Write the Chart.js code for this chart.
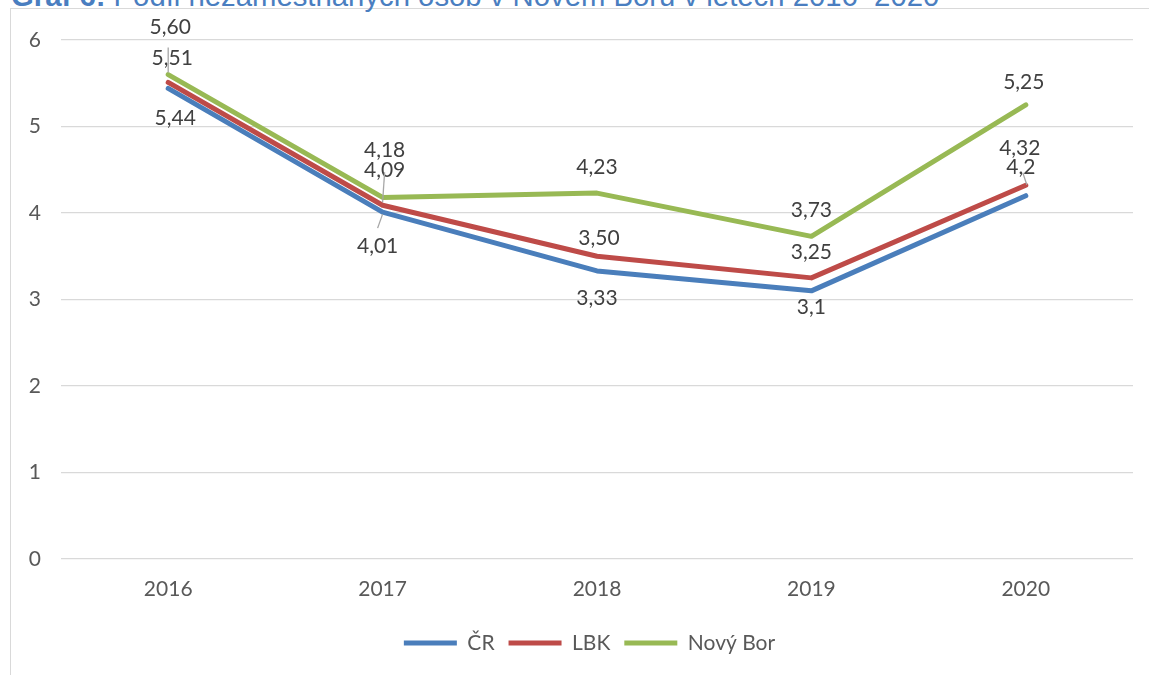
<!DOCTYPE html>
<html><head><meta charset="utf-8">
<script src="https://cdn.jsdelivr.net/npm/chart.js@4/dist/chart.umd.min.js"></script>
<style>
html,body{margin:0;padding:0;background:#fff;overflow:hidden;}
#wrap{position:relative;width:1149px;height:675px;overflow:hidden;background:#fff;}
#frame{position:absolute;left:10px;top:8px;width:1200px;height:700px;border:1px solid #d9d9d9;box-sizing:border-box;}
#title{position:absolute;left:11px;top:-19px;font-family:"Liberation Sans",Arial,sans-serif;font-size:29.3px;line-height:30px;color:#4A7EC0;white-space:nowrap;}
#cv{position:absolute;left:0;top:0;}
</style></head>
<body><div id="wrap"><div id="frame"></div><div id="title"><b>Graf 6:</b> Podíl nezaměstnaných osob v Novém Boru v letech 2016–2020</div><canvas id="cv" width="1149" height="675"></canvas></div>
<script>
const years = ['2016', '2017', '2018', '2019', '2020'];
const seriesNames = ['ČR', 'LBK', 'Nový Bor'];
const crValues = [5.44, 4.01, 3.33, 3.1, 4.2];
const lbkValues = [5.51, 4.09, 3.50, 3.25, 4.32];
const borValues = [5.60, 4.18, 4.23, 3.73, 5.25];
const crLabels = ['5,44', '4,01', '3,33', '3,1', '4,2'];
const lbkLabels = ['5,51', '4,09', '3,50', '3,25', '4,32'];
const borLabels = ['5,60', '4,18', '4,23', '3,73', '5,25'];
const yMin = 0, yMax = 6, yStep = 1;

const FONT = 'Lato, "Open Sans", sans-serif';

const labelOffsets = [
  [[7, 30], [-5, 34], [0, 27], [0, 16], [-5, -28]],
  [[4, -24], [2, -35], [2, -18], [0, -26], [-6, -37]],
  [[2, -47], [2, -47], [0, -26], [0, -26], [-2, -23]]
];
const leaders = [
  [2, 0, 0, -27, 0, -2],
  [1, 1, 2, -33, 0, -3],
  [0, 1, 0, 2, -5, 16],
  [0, 4, -3, -23, 1, -11]
];

const pointLabelPlugin = {
  id: 'pointLabels',
  afterDatasetsDraw(chart, args, opts) {
    const ctx = chart.ctx;
    ctx.save();
    ctx.font = '21px ' + FONT;
    ctx.fillStyle = '#404040';
    ctx.textAlign = 'center';
    ctx.textBaseline = 'middle';
    chart.data.datasets.forEach((ds, di) => {
      const meta = chart.getDatasetMeta(di);
      meta.data.forEach((p, i) => {
        const o = opts.offsets[di][i];
        ctx.fillText(ds.valueLabels[i], p.x + o[0], p.y + o[1]);
      });
    });
    ctx.strokeStyle = '#a6a6a6';
    ctx.lineWidth = 1.3;
    opts.leaders.forEach(([di, pi, x1, y1, x2, y2]) => {
      const p = chart.getDatasetMeta(di).data[pi];
      ctx.beginPath();
      ctx.moveTo(p.x + x1, p.y + y1);
      ctx.lineTo(p.x + x2, p.y + y2);
      ctx.stroke();
    });
    ctx.restore();
  }
};

const legendShift = {
  id: 'legendShift',
  afterLayout(chart) {
    chart.legend.left += 23;
    chart.legend.right += 23;
  }
};

function mk(label, data, labels, color, order) {
  return {
    label, data, valueLabels: labels,
    borderColor: color, backgroundColor: color,
    borderWidth: 5, pointRadius: 0, pointHoverRadius: 0,
    tension: 0, borderCapStyle: 'round', borderJoinStyle: 'round',
    fill: false, order
  };
}

new Chart(document.getElementById('cv'), {
  type: 'line',
  data: {
    labels: years,
    datasets: [
      mk(seriesNames[0], crValues, crLabels, '#4A7EBB', 3),
      mk(seriesNames[1], lbkValues, lbkLabels, '#BE4B48', 2),
      mk(seriesNames[2], borValues, borLabels, '#98B954', 1)
    ]
  },
  options: {
    responsive: false,
    animation: false,
    events: [],
    layout: { padding: { left: 0, right: 16, top: 40, bottom: 11.5 } },
    scales: {
      x: {
        offset: true,
        grid: { display: false, drawTicks: false },
        border: { display: false },
        ticks: { color: '#595959', font: { family: FONT, size: 21 }, padding: 18, maxRotation: 0 },
        afterFit(s) { s.height = 59.5; }
      },
      y: {
        min: yMin, max: yMax,
        grid: { color: '#d9d9d9', lineWidth: 1.3, drawTicks: false },
        border: { display: false },
        ticks: { stepSize: yStep, color: '#595959', font: { family: FONT, size: 21 }, padding: 20 },
        afterFit(s) { s.width = 61; }
      }
    },
    plugins: {
      tooltip: { enabled: false },
      legend: {
        position: 'bottom',
        labels: {
          usePointStyle: true, pointStyle: 'line', pointStyleWidth: 53,
          color: '#595959', font: { family: FONT, size: 21 }, padding: 14,
          sort: (a, b) => a.datasetIndex - b.datasetIndex
        }
      },
      pointLabels: { offsets: labelOffsets, leaders: leaders }
    }
  },
  plugins: [pointLabelPlugin, legendShift]
});
</script>
</body></html>
